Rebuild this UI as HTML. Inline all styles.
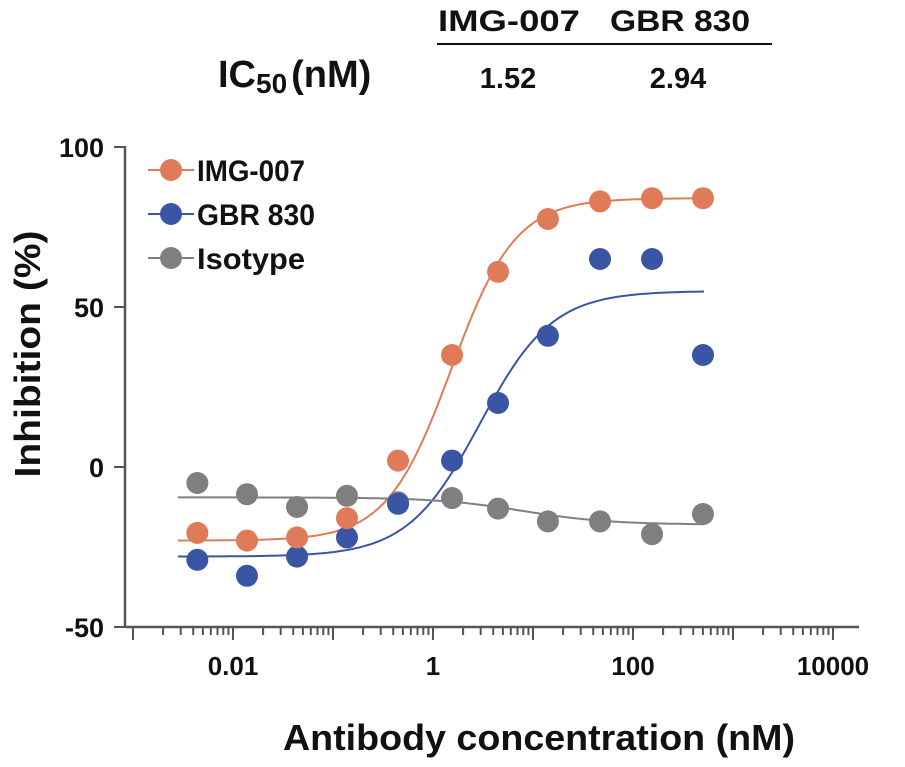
<!DOCTYPE html>
<html><head><meta charset="utf-8"><style>
body{margin:0;background:#fff}
svg text{font-family:"Liberation Sans",Arial,sans-serif;fill:#111;font-weight:bold}
</style></head><body>
<svg id="c" width="905" height="762" xmlns="http://www.w3.org/2000/svg">
<g>
<text x="438" y="31" font-size="30" textLength="142" lengthAdjust="spacingAndGlyphs">IMG-007</text>
<text x="610" y="31" font-size="30" textLength="140" lengthAdjust="spacingAndGlyphs">GBR 830</text>
<line x1="437" y1="44" x2="772" y2="44" stroke="#111" stroke-width="2"/>
<text x="218" y="87" font-size="38">IC<tspan font-size="28" dy="6">50</tspan><tspan dy="-6" dx="4">(nM)</tspan></text>
<text x="508" y="88" font-size="29" text-anchor="middle">1.52</text>
<text x="678" y="88" font-size="29" text-anchor="middle">2.94</text>
</g>
<g id="axes"></g><g id="marks"></g>
<text x="283" y="750" font-size="36" textLength="512" lengthAdjust="spacingAndGlyphs">Antibody concentration (nM)</text>
<text transform="translate(40,354) rotate(-90)" font-size="36" text-anchor="middle" textLength="247" lengthAdjust="spacingAndGlyphs">Inhibition (%)</text>
</svg>
<script>
const conc=[0.0044,0.0138,0.0437,0.138,0.447,1.55,4.47,14.1,46.8,155,501];
const imgVals=[-20.6,-23,-22,-16,2,35,61,77.5,83,84,84];
const gbrVals=[-29,-34,-28,-22,-11.5,2,20,41,65,65,35];
const isoVals=[-5,-8.5,-12.5,-9,-11,-9.7,-13,-17,-17,-21,-14.7];
const yTicks=[100,50,0,-50];
const xTicks=[0.01,1,100,10000];
const xTickLabels=["0.01","1","100","10000"];
const fits={img:{bottom:-23,top:84,ic50:1.52,hill:1.35},gbr:{bottom:-28,top:55,ic50:2.94,hill:1.2},iso:{bottom:-9.5,top:-18,ic50:8,hill:1}};
const X=v=>433+100*Math.log10(v), Y=v=>467-3.2*v;
const NS="http://www.w3.org/2000/svg";
function mk(p,t,a){const e=document.createElementNS(NS,t);for(const k in a)e.setAttribute(k,a[k]);p.appendChild(e);return e;}
const ax=document.getElementById('axes'), mg=document.getElementById('marks');
const AC='#555';
let e=mk(ax,'line',{x1:125,y1:146,x2:125,y2:628,stroke:AC,'stroke-width':2.5});


e=mk(ax,'line',{x1:125,y1:627,x2:859,y2:627,stroke:AC,'stroke-width':2.5});


yTicks.forEach(v=>{mk(ax,'line',{x1:114,y1:Y(v),x2:125,y2:Y(v),stroke:AC,'stroke-width':2});
 const t=mk(ax,'text',{x:104,y:Y(v)+10,'font-size':27,'text-anchor':'end'});t.textContent=v;
 
 });
for(let d=-3;d<=4;d++)for(let m=1;m<10;m++){const x=433+100*(d+Math.log10(m));if(x<125||x>860)continue;
 mk(ax,'line',{x1:x,y1:627,x2:x,y2:m==1?640:635,stroke:AC,'stroke-width':2});}
xTicks.forEach((v,i)=>{const t=mk(ax,'text',{x:X(v),y:675,'font-size':26,'text-anchor':'middle'});t.textContent=xTickLabels[i];
 
 });
function curve(f){let d='';for(let l=-2.55;l<=2.72;l+=0.02){const c=Math.pow(10,l);const y=f.bottom+(f.top-f.bottom)/(1+Math.pow(f.ic50/c,f.hill));d+=(d?'L':'M')+X(c).toFixed(1)+','+Y(y).toFixed(1);}return d;}
const series=[['img',imgVals,'#e07b5a','IMG-007'],['gbr',gbrVals,'#3a55a4','GBR 830'],['iso',isoVals,'#7f7f7f','Isotype']];
series.forEach(([k,vals,col,name])=>{
 const p=mk(mg,'path',{d:curve(fits[k]),fill:'none',stroke:col,'stroke-width':2});
 
 
});
series.slice().reverse().forEach(([k,vals,col])=>{
 vals.forEach((v,i)=>{const c=mk(mg,'circle',{cx:X(conc[i]),cy:Y(v),r:11,fill:col});
  
  });
});
const legW=[108,118,108];
series.forEach(([k,vals,col,name],i)=>{const y=170+44*i;
 const g=mk(mg,'g',{});
 
 
 mk(g,'line',{x1:148,y1:y,x2:194,y2:y,stroke:col,'stroke-width':2});
 mk(g,'circle',{cx:171,cy:y,r:11,fill:col});
 const t=mk(g,'text',{x:197,y:y+11,'font-size':30,textLength:legW[i],lengthAdjust:'spacingAndGlyphs'});t.textContent=name;});
</script>
</body></html>
